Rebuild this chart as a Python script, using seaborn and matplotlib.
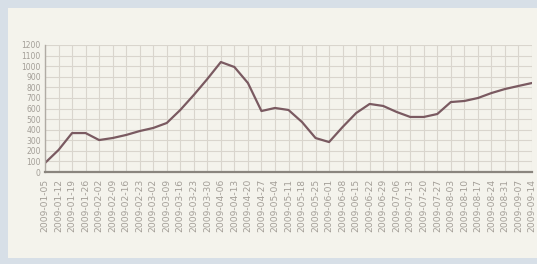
import matplotlib
matplotlib.use("Agg")
import matplotlib.pyplot as plt
import seaborn as sns
import pandas as pd
from matplotlib.patches import Rectangle

sns.set_theme(style="whitegrid")
plt.rcParams['font.family'] = ['DejaVu Sans']

weeks = ["2009-01-05", "2009-01-12", "2009-01-19", "2009-01-26", "2009-02-02", "2009-02-09",
         "2009-02-16", "2009-02-23", "2009-03-02", "2009-03-09", "2009-03-16", "2009-03-23",
         "2009-03-30", "2009-04-06", "2009-04-13", "2009-04-20", "2009-04-27", "2009-05-04",
         "2009-05-11", "2009-05-18", "2009-05-25", "2009-06-01", "2009-06-08", "2009-06-15",
         "2009-06-22", "2009-06-29", "2009-07-06", "2009-07-13", "2009-07-20", "2009-07-27",
         "2009-08-03", "2009-08-10", "2009-08-17", "2009-08-24", "2009-08-31", "2009-09-07",
         "2009-09-14"]
values = [85, 208, 368, 368, 302, 321, 350, 387, 416, 463, 586, 728, 879, 1039, 992, 841,
          576, 605, 586, 472, 321, 283, 425, 557, 643, 624, 567, 520, 520, 548, 661, 671,
          699, 746, 784, 813, 841]
y_ticks = [0, 100, 200, 300, 400, 500, 600, 700, 800, 900, 1000, 1100, 1200]

df = pd.DataFrame({"idx": range(len(weeks)), "week": weeks, "value": values})

fig = plt.figure(figsize=(5.37, 2.64), dpi=100)
fig.patch.set_facecolor("#d7dfe7")
fig.patches.append(Rectangle((8 / 537, 6 / 264), 1, 250 / 264, transform=fig.transFigure,
                             facecolor="#f4f3ec", edgecolor="none", zorder=-10))
ax = fig.add_axes([45 / 537, 1 - 172 / 264, 487 / 537, 127 / 264])
ax.set_zorder(5)
ax.set_facecolor("#f4f3ec")

sns.lineplot(data=df, x="idx", y="value", ax=ax, color="#7a5a61", linewidth=1.6)

ax.set_xlim(0, len(weeks) - 1)
ax.set_ylim(0, 1200)
ax.set_xticks(df["idx"])
ax.set_xticklabels(weeks, rotation=90, fontsize=6.6, color="#a39e97")
ax.set_yticks(y_ticks)
ax.set_yticklabels([str(t) for t in y_ticks], fontsize=5.5, color="#a39e97")
ax.set_xlabel("")
ax.set_ylabel("")
ax.grid(True, color="#d9d5cd", linewidth=0.8)
for s in ["top", "right"]:
    ax.spines[s].set_visible(False)
ax.spines["bottom"].set_color("#8a857e")
ax.spines["bottom"].set_linewidth(1.6)
ax.spines["left"].set_color("#b0aba4")
ax.spines["left"].set_linewidth(1.0)
ax.tick_params(axis="x", length=0, pad=5)
ax.tick_params(axis="y", length=0, pad=3)

fig.savefig("out.png", dpi=100, facecolor=fig.get_facecolor())
